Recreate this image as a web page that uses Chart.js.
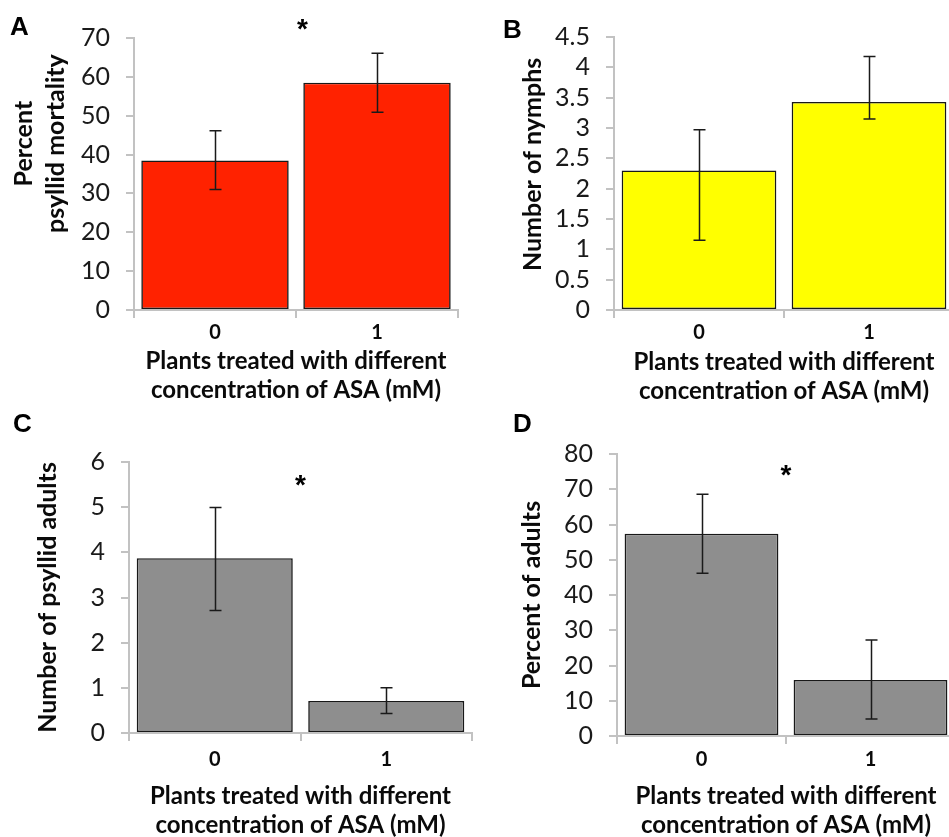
<!DOCTYPE html>
<html><head><meta charset="utf-8">
<script src="https://cdn.jsdelivr.net/npm/chart.js@4.4.1/dist/chart.umd.min.js"></script>
<style>
html,body{margin:0;padding:0;background:#fff;width:949px;height:837px;overflow:hidden;position:relative}
canvas{position:absolute}
</style></head><body>
<canvas id="cA" width="470" height="410" style="left:0;top:0"></canvas>
<canvas id="cB" width="490" height="410" style="left:470px;top:0"></canvas>
<canvas id="cC" width="480" height="440" style="left:0;top:410px"></canvas>
<canvas id="cD" width="490" height="440" style="left:470px;top:410px"></canvas>
<script>
// ---- data ----
const categories = ['0', '1'];
const xTitleLines = ['Plants treated with different', 'concentration of ASA (mM)'];

const mortality = [38.5, 58.5];
const mortalityHigh = [46.1, 66.1];
const mortalityLow = [31.0, 50.9];
const mortalityTicks = [0, 10, 20, 30, 40, 50, 60, 70];

const nymphs = [2.3, 3.43];
const nymphsHigh = [2.97, 4.18];
const nymphsLow = [1.15, 3.15];
const nymphsTicks = [0, 0.5, 1, 1.5, 2, 2.5, 3, 3.5, 4, 4.5];

const adults = [3.87, 0.71];
const adultsHigh = [4.99, 1.0];
const adultsLow = [2.71, 0.43];
const adultsTicks = [0, 1, 2, 3, 4, 5, 6];

const pctAdults = [57.4, 15.9];
const pctAdultsHigh = [68.6, 27.2];
const pctAdultsLow = [46.2, 4.8];
const pctAdultsTicks = [0, 10, 20, 30, 40, 50, 60, 70, 80];

// ---- drawing ----
const AXIS = '#c2c2c2';
const INK = '#0a0a0a';

function makeChart(id, o) {
  const W = o.W, H = o.H, b = o.box;
  const errPlugin = {
    id: 'errbars' + id,
    afterDatasetsDraw(chart) {
      const ctx = chart.ctx, ys = chart.scales.y;
      const meta = chart.getDatasetMeta(0);
      ctx.save();
      ctx.strokeStyle = '#1a1a1a';
      ctx.lineWidth = 1.5;
      meta.data.forEach((bar, i) => {
        const x = Math.round(bar.x) + 0.5;
        const yh = ys.getPixelForValue(o.hi[i]);
        const yl = ys.getPixelForValue(o.lo[i]);
        ctx.beginPath();
        ctx.moveTo(x, yh); ctx.lineTo(x, yl);
        ctx.moveTo(x - 6, yh); ctx.lineTo(x + 6, yh);
        ctx.moveTo(x - 6, yl); ctx.lineTo(x + 6, yl);
        ctx.stroke();
      });
      ctx.restore();
    },
    afterDraw(chart) {
      const ctx = chart.ctx;
      ctx.save();
      ctx.fillStyle = '#000';
      ctx.font = 'bold 26px "Liberation Sans", Arial, sans-serif';
      ctx.textAlign = 'left';
      ctx.textBaseline = 'alphabetic';
      ctx.fillText(o.letter, o.letterPos[0], o.letterPos[1]);
      if (o.star) {
        const sx = chart.scales.x.getPixelForValue(o.star[0]);
        const sy = chart.scales.y.getPixelForValue(o.star[1]);
        ctx.font = 'bold 28px "Liberation Sans", Arial, sans-serif';
        ctx.textAlign = 'center';
        ctx.textBaseline = 'alphabetic';
        const m = ctx.measureText('*');
        ctx.fillText('*', sx, sy + (m.actualBoundingBoxAscent - m.actualBoundingBoxDescent) / 2);
      }
      ctx.restore();
    }
  };
  return new Chart(document.getElementById(id), {
    type: 'bar',
    data: {
      labels: categories,
      datasets: [{
        data: o.values,
        backgroundColor: o.color,
        borderColor: '#181818',
        borderWidth: 1.6,
        borderSkipped: false,
        categoryPercentage: 0.91,
        barPercentage: 1
      }]
    },
    options: {
      responsive: false,
      animation: false,
      devicePixelRatio: 1,
      layout: { padding: { left: 0, top: b.top, right: W - b.right, bottom: 0 } },
      plugins: { legend: { display: false }, tooltip: { enabled: false } },
      scales: {
        x: {
          type: 'category',
          offset: true,
          grid: { display: true, offset: true, drawOnChartArea: false, drawTicks: true, tickLength: 8, color: AXIS, lineWidth: 2 },
          border: { display: true, color: AXIS, width: 2 },
          ticks: { color: INK, font: { family: 'Lato', size: 20, weight: 'bold', lineHeight: 1.2 }, padding: o.xTickPad, maxRotation: 0, autoSkip: false },
          title: { display: true, text: xTitleLines, color: INK,
                   font: { family: 'Lato', size: 24, weight: 'bold', lineHeight: 1.22 },
                   padding: { top: 0, bottom: o.xTitlePad } },
          afterFit: s => { s.height = H - b.bottom; }
        },
        y: {
          type: 'linear',
          min: o.ticks[0],
          max: o.ticks[o.ticks.length - 1],
          afterBuildTicks: s => { s.ticks = o.ticks.map(v => ({ value: v })); },
          grid: { display: true, drawOnChartArea: false, drawTicks: true, tickLength: 8, color: AXIS, lineWidth: 2 },
          border: { display: true, color: AXIS, width: 2 },
          ticks: { color: '#1a1a1a', font: { family: 'Lato', size: 25, lineHeight: 1.0 }, padding: 16, autoSkip: false, callback: v => String(v) },
          title: { display: true, text: o.yTitle, color: INK,
                   font: { family: 'Lato', size: 25, weight: 'bold', lineHeight: 1.28 },
                   padding: { top: o.yTitlePad, bottom: 0 } },
          afterFit: s => { s.width = b.left; }
        }
      }
    },
    plugins: [errPlugin]
  });
}

makeChart('cA', {
  W: 470, H: 410, box: { left: 134, right: 458, top: 38, bottom: 310 },
  values: mortality, hi: mortalityHigh, lo: mortalityLow, ticks: mortalityTicks,
  color: '#ff2200',
  yTitle: ['          Percent', '          psyllid mortality'],
  yTitlePad: 8, xTitlePad: 5, xTickPad: 3,
  letter: 'A', letterPos: [10, 35], star: [0.54, 73.6]
});
makeChart('cB', {
  W: 490, H: 410, box: { left: 144, right: 484, top: 37, bottom: 310 },
  values: nymphs, hi: nymphsHigh, lo: nymphsLow, ticks: nymphsTicks,
  color: '#ffff00',
  yTitle: '   Number of nymphs',
  yTitlePad: 47, xTitlePad: 4, xTickPad: 3,
  letter: 'B', letterPos: [33, 38], star: null
});
makeChart('cC', {
  W: 480, H: 440, box: { left: 129, right: 472, top: 52, bottom: 323 },
  values: adults, hi: adultsHigh, lo: adultsLow, ticks: adultsTicks,
  color: '#8e8e8e',
  yTitle: 'Number of psyllid adults',
  yTitlePad: 32, xTitlePad: 10, xTickPad: 7,
  letter: 'C', letterPos: [13, 22], star: [0.5, 5.6]
});
makeChart('cD', {
  W: 490, H: 440, box: { left: 147, right: 485, top: 44, bottom: 326 },
  values: pctAdults, hi: pctAdultsHigh, lo: pctAdultsLow, ticks: pctAdultsTicks,
  color: '#8e8e8e',
  yTitle: 'Percent of adults',
  yTitlePad: 46, xTitlePad: 10, xTickPad: 4,
  letter: 'D', letterPos: [43, 22], star: [0.5, 75.3]
});
</script>
</body></html>
